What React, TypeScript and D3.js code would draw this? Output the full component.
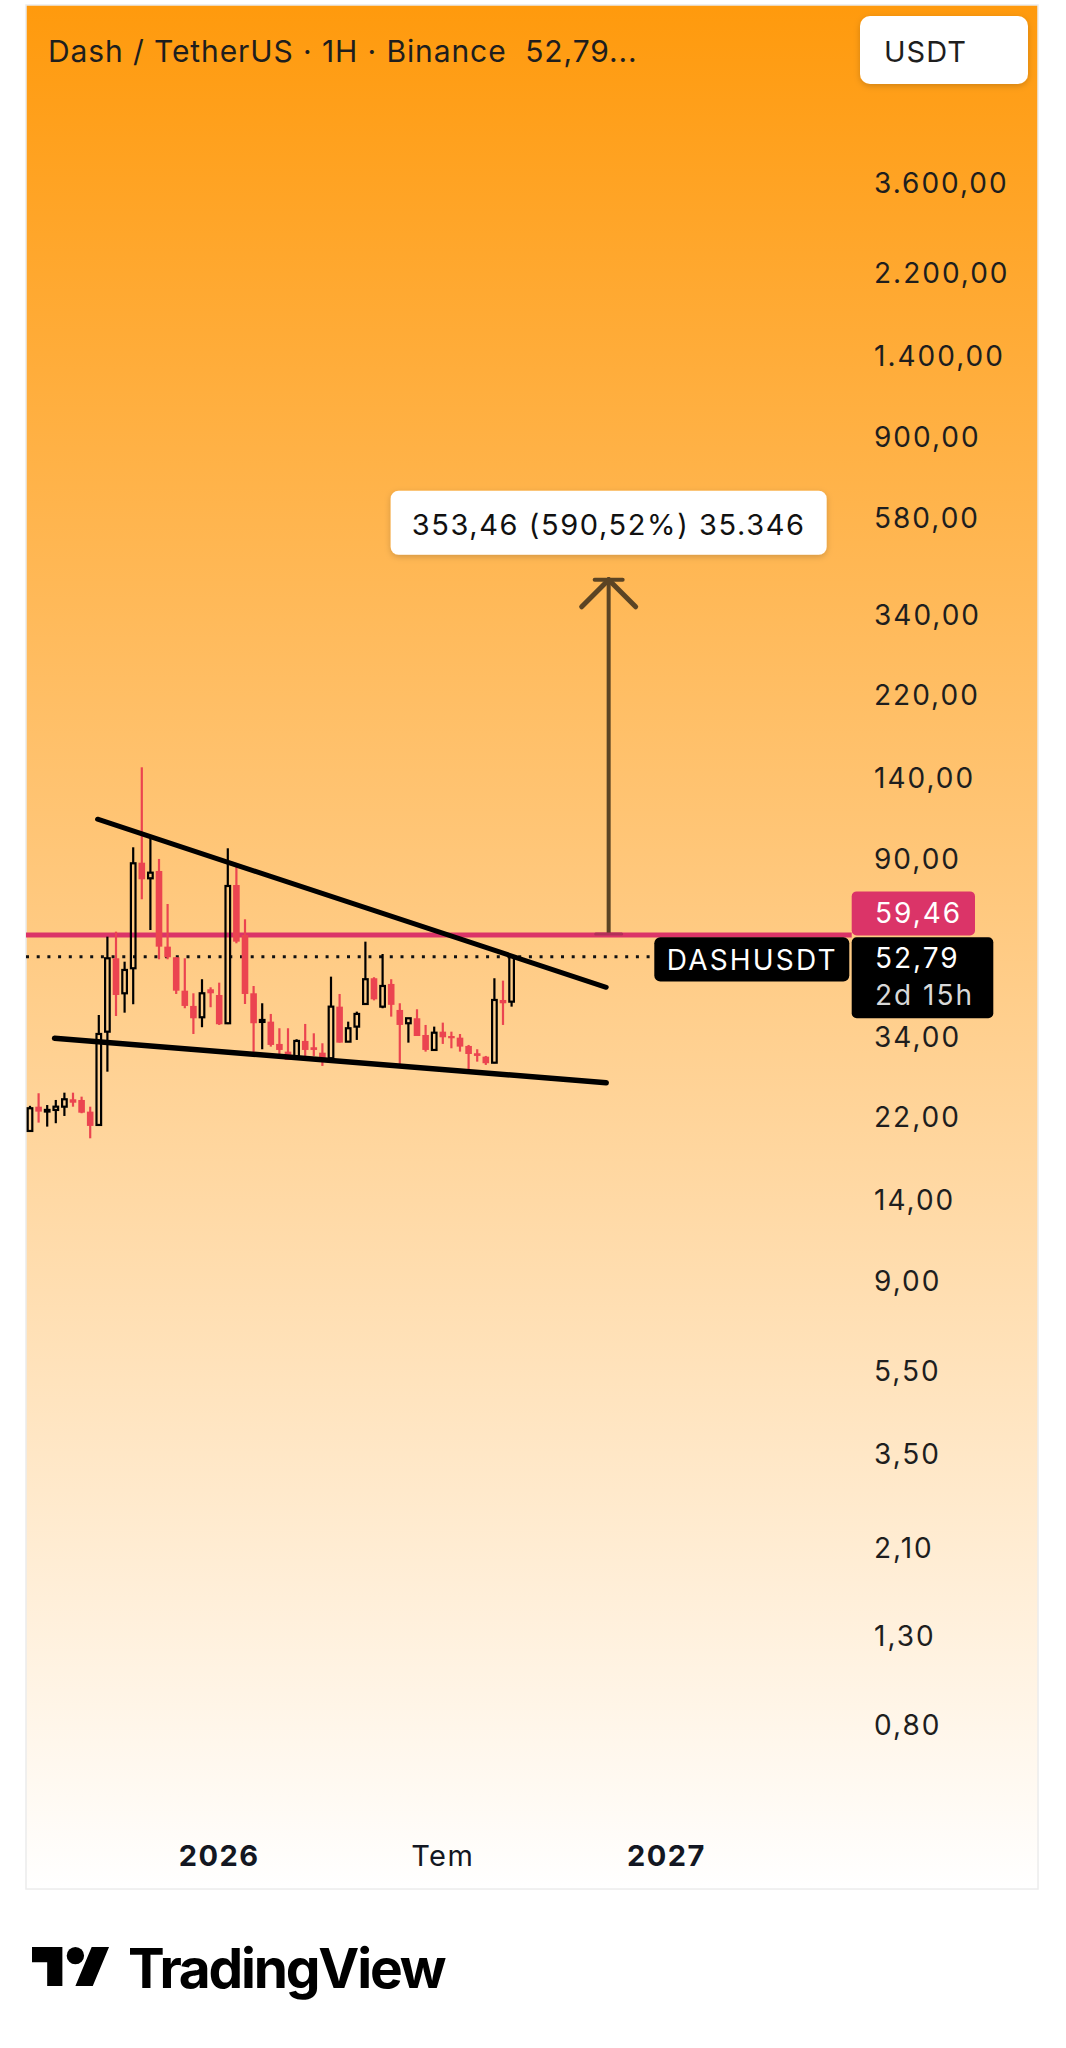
import React from "react";
import * as d3 from "d3";

// ---------- DATA ----------
const dates = [
  "2025-08-04","2025-08-11","2025-08-18","2025-08-25","2025-09-01","2025-09-08","2025-09-15","2025-09-22",
  "2025-09-29","2025-10-06","2025-10-13","2025-10-20","2025-10-27","2025-11-03","2025-11-10","2025-11-17",
  "2025-11-24","2025-12-01","2025-12-08","2025-12-15","2025-12-22","2025-12-29","2026-01-05","2026-01-12",
  "2026-01-19","2026-01-26","2026-02-02","2026-02-09","2026-02-16","2026-02-23","2026-03-02","2026-03-09",
  "2026-03-16","2026-03-23","2026-03-30","2026-04-06","2026-04-13","2026-04-20","2026-04-27","2026-05-04",
  "2026-05-11","2026-05-18","2026-05-25","2026-06-01","2026-06-08","2026-06-15","2026-06-22","2026-06-29",
  "2026-07-06","2026-07-13","2026-07-20","2026-07-27","2026-08-03","2026-08-10","2026-08-17","2026-08-24",
  "2026-08-31",
];
const opens = [
  20.4, 23.29, 22.8, 22.88, 23.29, 24.25, 24.16, 22.67,
  21.08, 35.07, 52.34, 43.24, 49.57, 88.18, 80.99, 84.28,
  55.77, 52.63, 43.86, 40.36, 37.94, 44.2, 42.84, 36.72,
  78.07, 59.45, 43.24, 36.98, 37.04, 32.8, 31.45, 30.6,
  33.34, 32.21, 31.27, 30.34, 40.2, 33.21, 36.05, 40.79,
  46.94, 40.2, 45.5, 39.48, 36.72, 37.73, 34.44, 31.74,
  35.07, 34.25, 33.94, 32.44, 31.17, 30.6, 29.61, 41.69,
  41.31,
];
const highs = [
  23.4, 25.06, 23.5, 24.16, 25.14, 25.14, 24.6, 23.29,
  38.41, 58.9, 60.52, 51.38, 95.91, 148.4, 100.7, 90.0,
  70.39, 52.63, 52.34, 43.24, 46.69, 44.68, 45.82, 95.39,
  87.55, 64.75, 45.0, 40.95, 38.63, 35.73, 35.73, 33.65,
  36.58, 34.76, 32.92, 47.35, 43.08, 37.04, 39.12, 57.31,
  47.2, 53.58, 46.69, 40.95, 37.73, 39.63, 36.38, 36.05,
  36.84, 35.07, 34.63, 32.62, 31.86, 30.72, 46.94, 46.33,
  53.0,
];
const lows = [
  20.3, 21.35, 20.89, 21.28, 22.14, 23.29, 22.47, 19.6,
  20.97, 28.19, 38.2, 38.9, 40.73, 72.22, 61.07, 52.06,
  52.06, 43.08, 39.85, 34.63, 35.93, 40.07, 36.38, 36.55,
  56.8, 40.79, 30.6, 31.86, 32.32, 30.34, 30.06, 30.06,
  30.72, 30.72, 29.09, 30.17, 33.03, 33.21, 33.52, 40.6,
  41.6, 39.85, 38.07, 29.25, 33.03, 34.25, 31.45, 31.74,
  32.8, 32.03, 31.45, 28.57, 29.78, 29.25, 29.52, 36.38,
  40.2,
];
const closes = [
  23.09, 22.67, 22.88, 23.29, 24.25, 23.8, 22.54, 20.97,
  34.63, 52.34, 42.84, 49.11, 87.89, 80.55, 83.5, 55.77,
  52.63, 43.86, 40.36, 37.73, 43.24, 43.24, 36.52, 77.65,
  57.31, 43.08, 36.72, 37.38, 32.62, 31.74, 30.06, 33.34,
  31.74, 31.74, 30.34, 40.2, 33.03, 35.73, 38.63, 46.69,
  41.84, 45.0, 40.6, 36.38, 37.73, 34.25, 31.74, 34.87,
  34.01, 33.83, 32.32, 31.05, 30.72, 29.52, 41.69, 40.95,
  52.79,
];

const priceTicks = [3600, 2200, 1400, 900, 580, 340, 220, 140, 90, 34, 22, 14, 9, 5.5, 3.5, 2.1, 1.3, 0.8];
const timeTickDates = ["2026-01-05", "2026-07-06", "2027-01-04"];
const timeTickLabels = ["2026", "Tem", "2027"];
const timeTickBold = [true, false, true];

const upperTrendDates = ["2025-09-28", "2026-11-16"];
const upperTrendPrices = [111.8, 44.68];
const lowerTrendDates = ["2025-08-24", "2026-11-16"];
const lowerTrendPrices = [33.83, 26.55];

const resistancePrice = 59.46;
const lastPrice = 52.79;
const targetDate = "2026-11-18";
const targetPrice = 412.92;
const measureText = "353,46 (590,52%) 35.346";
const titleText = "Dash / TetherUS · 1H · Binance  52,79...";
const countdownText = "2d 15h";
const symbolText = "DASHUSDT";
const currencyText = "USDT";

// ---------- HELPERS ----------
const W = 1066;
const H = 2048;
const panel = { x0: 26, x1: 1038, y0: 5, y1: 1889 };
const FONT = "Inter, 'Liberation Sans', Arial, sans-serif";

const parse = (s: string) => new Date(s + "T00:00:00Z");
const x = d3.scaleUtc().domain([parse(dates[0]), parse(dates[dates.length - 1])]).range([30, 511.6]);
const y = d3.scaleLog().domain([0.8, 3600]).range([1724.5, 182.9]);

const trLocale = d3.formatLocale({ decimal: ",", thousands: ".", grouping: [3], currency: ["", ""] });
const fmt = trLocale.format(",.2f");

const RED = "#EB4450";
const PINK = "#DB3468";
const ARROW = "#5B4424";

export default function App() {
  const candles = dates.map((d, i) => ({
    t: parse(d), o: opens[i], h: highs[i], l: lows[i], c: closes[i],
  }));
  const bodyW = 6.6;
  const hollowW = 4.6;

  const axisX = 874;
  const labelLeft = 851.7;

  const yRes = y(resistancePrice);
  const yLast = y(lastPrice);
  const xArrow = x(parse(targetDate));
  const yTop = y(targetPrice);

  const trendLine = d3.line<[Date, number]>().x((d) => x(d[0])).y((d) => y(d[1]));
  const up: [Date, number][] = upperTrendDates.map((d, i) => [parse(d), upperTrendPrices[i]]);
  const lo: [Date, number][] = lowerTrendDates.map((d, i) => [parse(d), lowerTrendPrices[i]]);

  return (
    <svg width={W} height={H} style={{ position: "absolute", left: 0, top: 0, background: "#fff" }}
      fontFamily={FONT}>
      <defs>
        <linearGradient id="bg" x1="0" y1="0" x2="0" y2="1">
          <stop offset="0" stopColor="#FF9A0D" />
          <stop offset="0.5" stopColor="#FFCB84" />
          <stop offset="1" stopColor="#FFFFFF" />
        </linearGradient>
        <clipPath id="plot">
          <rect x={panel.x0} y={panel.y0} width={panel.x1 - panel.x0} height={panel.y1 - panel.y0} />
        </clipPath>
        <filter id="shadow" x="-10%" y="-30%" width="120%" height="170%">
          <feDropShadow dx="0" dy="2" stdDeviation="3" floodColor="#000" floodOpacity="0.18" />
        </filter>
      </defs>

      {/* panel */}
      <rect x={panel.x0} y={panel.y0} width={panel.x1 - panel.x0} height={panel.y1 - panel.y0}
        fill="url(#bg)" stroke="#ECECEC" strokeWidth={1.5} />

      {/* title */}
      <text x={48} y={62} fontSize={30} fill="#1E1E1E" style={{ whiteSpace: "pre" }} letterSpacing={0.9}>
        {titleText}
      </text>

      {/* currency button */}
      <rect x={860} y={16} width={168} height={68} rx={10} fill="#fff" filter="url(#shadow)" />
      <text x={884} y={62} fontSize={29} fill="#1E1E1E" letterSpacing={1}>{currencyText}</text>

      {/* price axis labels */}
      {priceTicks.map((v) => (
        <text key={v} x={axisX} y={y(v)} dy="0.36em" fontSize={28} fill="#1E1E1E" letterSpacing={2}>
          {fmt(v)}
        </text>
      ))}

      <g clipPath="url(#plot)">
        {/* resistance line */}
        <line x1={panel.x0} x2={labelLeft} y1={yRes} y2={yRes} stroke={PINK} strokeWidth={5} />
        {/* last price dotted line */}
        <line x1={panel.x0} x2={654} y1={yLast} y2={yLast} stroke="#111" strokeWidth={3}
          strokeDasharray="3 7.7" />

        {/* candles */}
        {candles.map((d, i) => {
          const cx = x(d.t);
          const isUp = d.c >= d.o;
          const top = y(Math.max(d.o, d.c));
          const bot = y(Math.min(d.o, d.c));
          const hgt = Math.max(bot - top, 1.6);
          if (isUp) {
            return (
              <g key={i}>
                <line x1={cx} x2={cx} y1={y(d.h)} y2={top} stroke="#000" strokeWidth={2.2} />
                <line x1={cx} x2={cx} y1={top + hgt} y2={y(d.l)} stroke="#000" strokeWidth={2.2} />
                <rect x={cx - hollowW / 2} y={top} width={hollowW} height={hgt} fill="none"
                  stroke="#000" strokeWidth={2.2} />
              </g>
            );
          }
          return (
            <g key={i}>
              <line x1={cx} x2={cx} y1={y(d.h)} y2={y(d.l)} stroke={RED} strokeWidth={2.2} />
              <rect x={cx - bodyW / 2} y={top} width={bodyW} height={hgt} fill={RED} />
            </g>
          );
        })}

        {/* trend lines */}
        <path d={trendLine(up) || ""} stroke="#000" strokeWidth={5} strokeLinecap="round" fill="none" />
        <path d={trendLine(lo) || ""} stroke="#000" strokeWidth={5.5} strokeLinecap="round" fill="none" />

        {/* measurement arrow */}
        <g stroke={ARROW} strokeLinecap="round" fill="none">
          <line x1={xArrow} x2={xArrow} y1={yTop} y2={yRes} strokeWidth={4} strokeLinecap="butt" />
          <line x1={xArrow - 14} x2={xArrow + 14} y1={yTop} y2={yTop} strokeWidth={4} />
          <line x1={xArrow} x2={xArrow - 27} y1={yTop} y2={yTop + 27} strokeWidth={5} />
          <line x1={xArrow} x2={xArrow + 27} y1={yTop} y2={yTop + 27} strokeWidth={5} />
          <line x1={xArrow - 13} x2={xArrow + 13} y1={yRes - 1} y2={yRes - 1} strokeWidth={3}
            stroke="#B23058" />
        </g>
      </g>

      {/* measurement label */}
      <rect x={xArrow - 218} y={yTop - 89} width={436} height={64} rx={8} fill="#fff" filter="url(#shadow)" />
      <text x={xArrow} y={yTop - 45} textAnchor="middle" fontSize={29} fill="#111" letterSpacing={1.6}>
        {measureText}
      </text>

      {/* symbol label */}
      <rect x={654.3} y={yLast - 19.5} width={195} height={44.4} rx={6} fill="#000" />
      <text x={666.7} y={yLast + 3} dy="0.36em" fontSize={28} fill="#fff" letterSpacing={2.2}>
        {symbolText}
      </text>

      {/* resistance price label */}
      <rect x={labelLeft} y={yRes - 43.5} width={123.3} height={44} rx={5} fill={PINK} />
      <text x={875} y={yRes - 21.5} dy="0.36em" fontSize={28} fill="#fff" letterSpacing={2}>
        {fmt(resistancePrice)}
      </text>

      {/* last price label */}
      <rect x={labelLeft} y={yLast - 19.5} width={141.6} height={81} rx={5} fill="#000" />
      <text x={875} y={yLast + 1.5} dy="0.36em" fontSize={28} fill="#fff" letterSpacing={2}>
        {fmt(lastPrice)}
      </text>
      <text x={875} y={yLast + 38} dy="0.36em" fontSize={28} fill="#D8D8D8" letterSpacing={2}>
        {countdownText}
      </text>

      {/* time axis */}
      {timeTickDates.map((d, i) => (
        <text key={d} x={x(parse(d))} y={1866} textAnchor="middle" fontSize={29}
          fontWeight={timeTickBold[i] ? 700 : 400} fill="#131722" letterSpacing={1.5}>
          {timeTickLabels[i]}
        </text>
      ))}

      {/* TradingView logo */}
      <g transform="translate(32,1938.3) scale(2.17)" fill="#000">
        <path d="M14 22H7V11H0V4h14v18zM28 22h-8l7.5-18h8L28 22z" />
        <circle cx="20" cy="8" r="4" />
      </g>
      <text x={128} y={1988} fontSize={55} fontWeight={700} fill="#000" letterSpacing={-2.2}>
        TradingView
      </text>
    </svg>
  );
}
